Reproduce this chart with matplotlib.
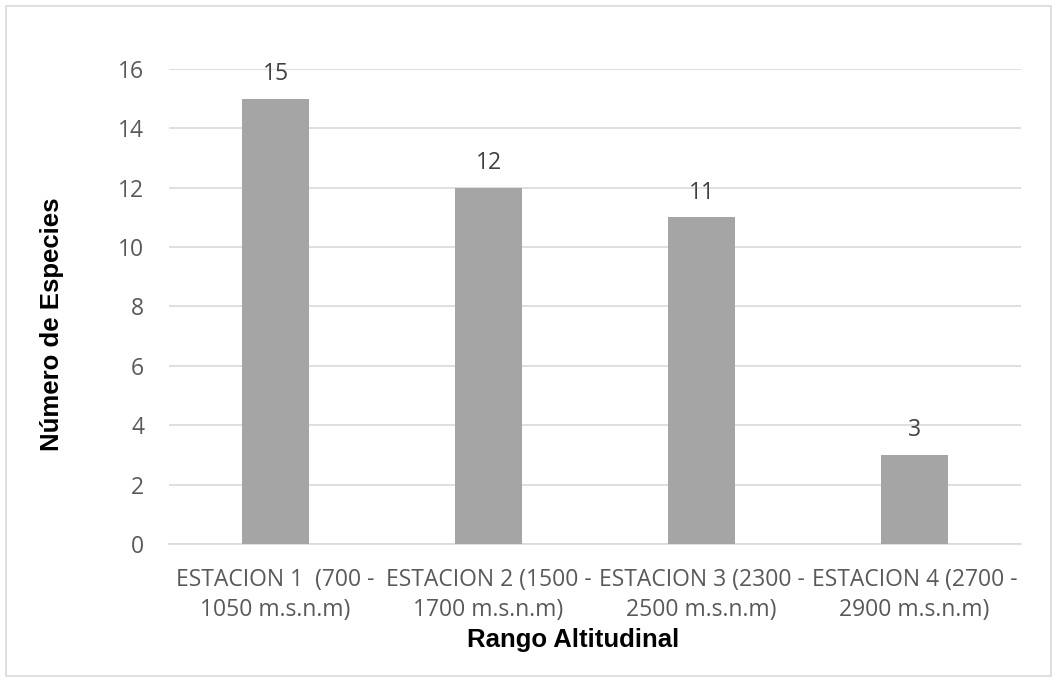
import matplotlib.pyplot as plt
from matplotlib.patches import Rectangle

categories = [
    "ESTACION 1  (700 -\n1050 m.s.n.m)",
    "ESTACION 2 (1500 -\n1700 m.s.n.m)",
    "ESTACION 3 (2300 -\n2500 m.s.n.m)",
    "ESTACION 4 (2700 -\n2900 m.s.n.m)",
]
especies = [15, 12, 11, 3]
yticks = [0, 2, 4, 6, 8, 10, 12, 14, 16]

W, H = 1057, 682
fig = plt.figure(figsize=(W / 100, H / 100), dpi=100)
fig.patch.set_facecolor("white")

# outer chart border
fig.add_artist(Rectangle((6 / W, 6 / H), (W - 12) / W, (H - 12) / H,
                         transform=fig.transFigure, fill=False,
                         edgecolor="#D9D9D9", linewidth=1.2))

left, right, top, bottom = 169, 1021, 69, 544
ax = fig.add_axes([left / W, 1 - bottom / H, (right - left) / W, (bottom - top) / H])

tick_font = "Open Sans"
fs = 16.5
x = list(range(len(categories)))
bars = ax.bar(x, especies, width=0.31, color="#A5A5A5", zorder=3)
ax.set_xlim(-0.5, len(categories) - 0.5)
ax.set_ylim(0, 16)
ax.set_yticks(yticks)
ax.set_yticklabels([str(v) for v in yticks], fontfamily=tick_font,
                   fontsize=fs, color="#595959")
ax.set_xticks(x)
ax.set_xticklabels(categories, fontfamily=tick_font, fontsize=fs,
                   color="#595959", linespacing=1.38)
ax.tick_params(axis="both", length=0)
ax.tick_params(axis="y", pad=18)
ax.tick_params(axis="x", pad=17)
ax.grid(axis="y", color="#D9D9D9", linewidth=1.2, zorder=0)
for s in ["top", "right", "left"]:
    ax.spines[s].set_visible(False)
ax.spines["bottom"].set_color("#D9D9D9")
ax.spines["bottom"].set_linewidth(1.2)

for b, v in zip(bars, especies):
    ax.annotate(str(v), (b.get_x() + b.get_width() / 2, v),
                xytext=(0, 9), textcoords="offset points",
                ha="center", va="bottom", fontfamily=tick_font,
                fontsize=fs, color="#404040")

fig.text(573 / W, 1 - 640 / H, "Rango Altitudinal", ha="center", va="center",
         fontfamily="Liberation Sans", fontweight="bold", fontsize=18.5, color="black")
fig.text(52 / W, 1 - 324 / H, "Número de Especies", ha="center", va="center",
         rotation=90, fontfamily="Liberation Sans", fontweight="bold",
         fontsize=18.5, color="black")

fig.savefig("out.png", dpi=100, facecolor="white")
